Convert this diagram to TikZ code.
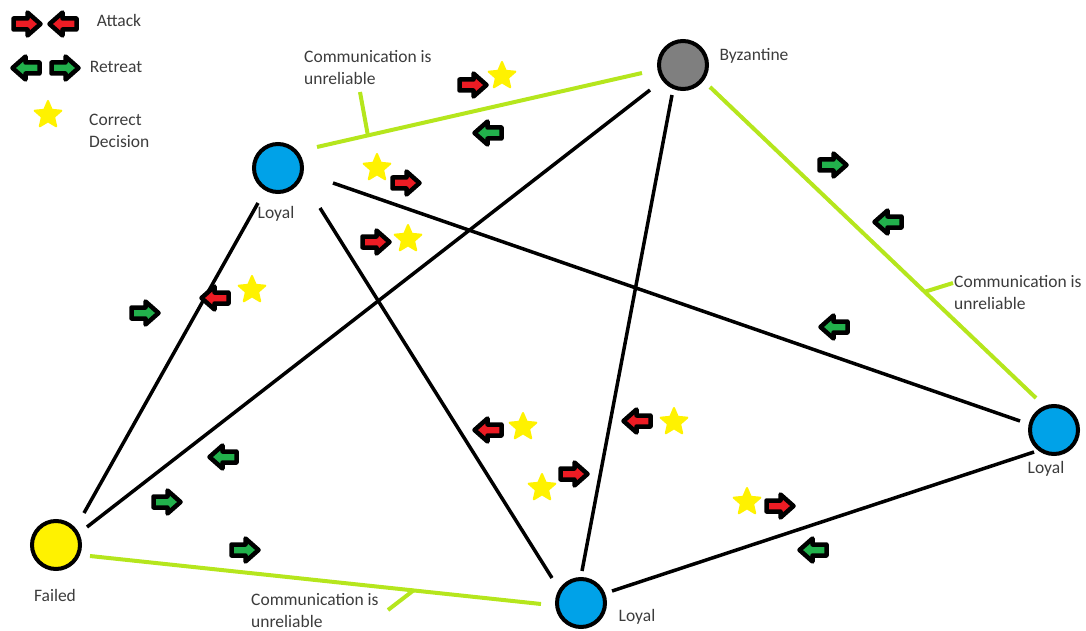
\documentclass[tikz,border=0pt]{standalone}
\usepackage{fontspec}
\setmainfont{Carlito}
\usetikzlibrary{calc}
\definecolor{pblue}{HTML}{00A2E8}
\definecolor{pgray}{HTML}{7F7F7F}
\definecolor{pyellow}{HTML}{FFF200}
\definecolor{pred}{HTML}{ED1C24}
\definecolor{pgreen}{HTML}{22B14C}
\definecolor{plime}{HTML}{B5E61D}
\definecolor{txt}{HTML}{3C3C3C}
\begin{document}
\begin{tikzpicture}[x=1pt,y=-1pt,
  circ/.style={circle,draw=black,line width=4pt,minimum size=48pt,inner sep=0pt},
  conn/.style={line width=3.5pt,black},
  glink/.style={line width=4pt,plime},
  lbl/.style={text=txt,font=\fontsize{17.5}{22}\selectfont,inner sep=0pt,align=left},
  pics/arr/.style={code={\draw[line width=4.5pt,line join=round,fill=#1]
     (-13.5,-5.5) -- (0.5,-5.5) -- (0.5,-11.5) -- (13.5,0) -- (0.5,11.5) -- (0.5,5.5) -- (-13.5,5.5) -- cycle;}},
  pics/starp/.style={code={\fill[pyellow,draw=pyellow,line width=2pt,line join=round]
     (270:14) -- (306:6.4) -- (342:14) -- (18:6.4) -- (54:14) -- (90:6.4)
     -- (126:14) -- (162:6.4) -- (198:14) -- (234:6.4) -- cycle;}}
]
\useasboundingbox (0,0) rectangle (1086,631);

% nodes
\node[circ,fill=pgray] (B) at (683,65) {};
\node[circ,fill=pblue] (L1) at (278,168) {};
\node[circ,fill=pblue] (LR) at (1054,430) {};
\node[circ,fill=pblue] (LB) at (581,603) {};
\node[circ,fill=pyellow] (F) at (56,545) {};

% black links
\draw[conn] ($(L1)+(-20,35)$) -- ($(F)+(28,-32)$);
\draw[conn] ($(L1)+(42,40)$) -- ($(LB)+(-29,-25)$);
\draw[conn] ($(L1)+(55,15)$) -- ($(LR)+(-34,-9)$);
\draw[conn] ($(B)+(-33,25)$) -- ($(F)+(31,-18)$);
\draw[conn] ($(B)+(-11,30)$) -- ($(LB)+(1,-32)$);
\draw[conn] ($(LB)+(31,-12)$) -- ($(LR)+(-20,22)$);

% unreliable links
\draw[glink] ($(L1)+(39,-21)$) -- ($(B)+(-41,8)$);
\draw[glink] ($(B)+(27,22)$) -- ($(LR)+(-18,-32)$);
\draw[glink] ($(F)+(34,11)$) -- ($(LB)+(-40,1)$);

% leaders
\coordinate (k1a) at (360,92); \coordinate (k1b) at (368,136);
\coordinate (k2a) at (953,283); \coordinate (k2b) at (924,292);
\coordinate (k3a) at (414,590); \coordinate (k3b) at (388,610);
\draw[glink] (k1a) -- (k1b);
\draw[glink] (k2a) -- (k2b);
\draw[glink] (k3a) -- (k3b);

% labels
\node[lbl] (tB) at (754,56) {Byzantine};
\node[lbl] (tL1) at (276,214) {Loyal};
\node[lbl] (tLR) at (1046,469) {Loyal};
\node[lbl] (tLB) at (637,617) {Loyal};
\node[lbl] (tF) at (55,595) {Failed};
\node[lbl,anchor=west] (c1) at (304,68) {Communication is\\unreliable};
\node[lbl,anchor=west] (c2) at (954,293) {Communication is\\unreliable};
\node[lbl,anchor=west] (c3) at (251,611) {Communication is\\unreliable};

% legend
\pic at (27,24) {arr=pred};
\pic[xscale=-1] at (63,24) {arr=pred};
\pic[xscale=-1] at (26,68) {arr=pgreen};
\pic at (65,68) {arr=pgreen};
\pic at (48,115) {starp};
\node[lbl] (lA) at (119,20) {Attack};
\node[lbl] (lR) at (116,67) {Retreat};
\node[lbl,anchor=west] (lC) at (89,131) {Correct\\Decision};

% messages
\pic at (473,85) {arr=pred};  \pic at (502,76) {starp};
\pic[xscale=-1] at (488,133) {arr=pgreen};
\pic at (377,168) {starp};    \pic at (406,183) {arr=pred};
\pic at (376,242) {arr=pred}; \pic at (408,239) {starp};
\pic[xscale=-1] at (215,298) {arr=pred}; \pic at (252,290) {starp};
\pic at (145,313) {arr=pgreen};
\pic at (833,165) {arr=pgreen};
\pic[xscale=-1] at (888,222) {arr=pgreen};
\pic[xscale=-1] at (834,327) {arr=pgreen};
\pic[xscale=-1] at (223,457) {arr=pgreen};
\pic at (167,502) {arr=pgreen};
\pic at (245,550) {arr=pgreen};
\pic[xscale=-1] at (488,430) {arr=pred}; \pic at (523,427) {starp};
\pic at (542,488) {starp}; \pic at (574,474) {arr=pred};
\pic[xscale=-1] at (637,421) {arr=pred}; \pic at (674,422) {starp};
\pic at (747,502) {starp}; \pic at (780,506) {arr=pred};
\pic[xscale=-1] at (813,550) {arr=pgreen};
\end{tikzpicture}
\end{document}
